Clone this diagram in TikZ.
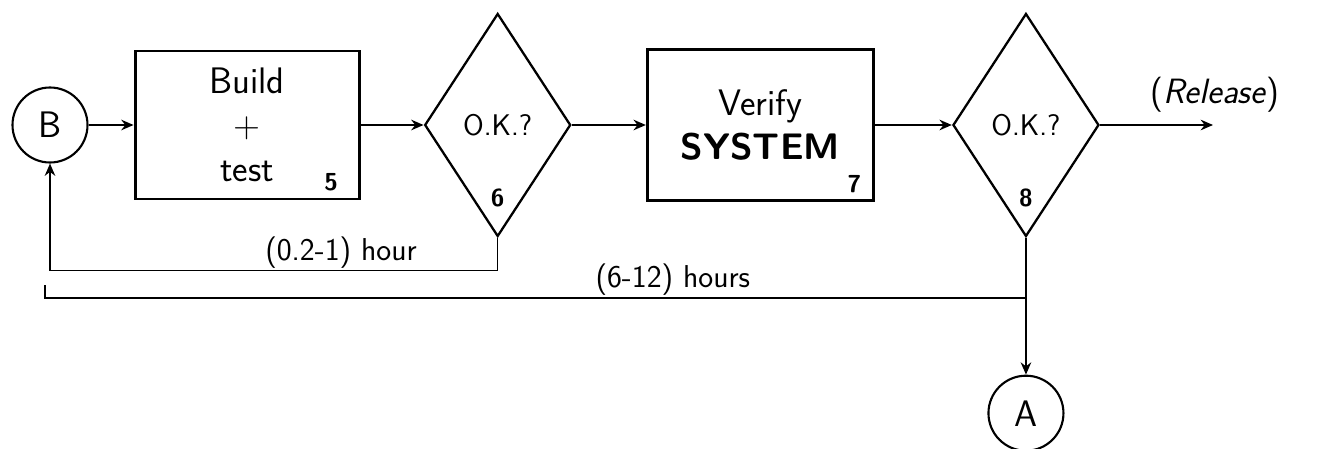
\documentclass[tikz,border=0pt]{standalone}
\usepackage{tikz}
\usetikzlibrary{arrows.meta,shapes.geometric,positioning}

\begin{document}
\begin{tikzpicture}[
  font=\sffamily,
  >={Stealth[length=7pt,width=6pt]},
  stagebox/.style={draw, line width=1.7pt, minimum width=4.48cm, minimum height=2.96cm,
                   align=center, font=\sffamily\fontsize{21}{25}\selectfont},
  decision/.style={draw, diamond, line width=1.3pt, inner sep=0pt,
                   minimum width=2.92cm, minimum height=4.46cm,
                   font=\sffamily\fontsize{17}{20}\selectfont},
  connector/.style={draw, circle, line width=1.2pt, minimum size=1.5cm, inner sep=0pt,
                    font=\sffamily\fontsize{21}{25}\selectfont},
  stepno/.style={font=\sffamily\bfseries\fontsize{14}{16}\selectfont, inner sep=0pt},
  arrow/.style={->, line width=1.2pt},
  loopline/.style={line width=0.9pt},
  note/.style={font=\sffamily\fontsize{18}{21}\selectfont, inner sep=1pt},
]
\useasboundingbox (0,0) rectangle (26.44,-8.98);

\node[connector] (b) at (1.0,-2.5) {B};
\node[stagebox, right=0.9cm of b] (build) {Build\\+\\test};
\node[decision, right=1.26cm of build] (ok6) {O.K.?};
\node[stagebox, minimum width=4.52cm, minimum height=3.02cm, right=1.48cm of ok6] (verify)
  {Verify\\\textbf{SYSTEM}};
\node[decision, right=1.54cm of verify] (ok8) {O.K.?};
\node[connector, below=2.74cm of ok8] (a) {A};

\node[stepno] (n5) at ([shift={(-0.59,0.36)}]build.south east) {5};
\node[stepno] (n6) at ([shift={(0,0.8)}]ok6.south) {6};
\node[stepno] (n7) at ([shift={(-0.41,0.35)}]verify.south east) {7};
\node[stepno] (n8) at ([shift={(0,0.8)}]ok8.south) {8};

\coordinate (out) at (24.26,-2.5);
\node[note, font=\sffamily\fontsize{20}{24}\selectfont] (rel) at (24.3,-1.9) {(\textit{Release})};
\coordinate (back) at (0.9,-5.96);

\draw[arrow] (b) -- (build);
\draw[arrow] (build) -- (ok6);
\draw[arrow] (ok6) -- (verify);
\draw[arrow] (verify) -- (ok8);
\draw[arrow] (ok8) -- (out);

% short loop back to B
\draw[loopline, ->] (ok6.south) -- ++(0,-0.66) -| (b.south)
  node[note, pos=0.175, above] {(0.2-1) hour};
% long loop
\draw[arrow, line width=0.9pt] (ok8.south) -- (a);
\draw[loopline] (ok8.south |- back) -- (back)
  node[note, pos=0.36, above] {(6-12) hours} -- ++(0,0.26);

\end{tikzpicture}
\end{document}
